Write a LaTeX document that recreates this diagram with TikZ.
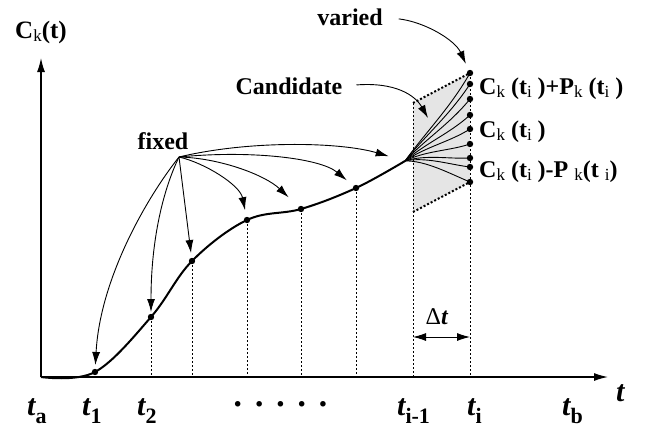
\documentclass[tikz,border=0pt]{standalone}
\usepackage{fontspec}
\setmainfont{Liberation Serif}
\usetikzlibrary{arrows.meta,calc}
\tikzset{
  >={Latex[length=13pt,width=8pt]},
  axis/.style={-{Latex[length=14pt,width=8pt]}, line width=1.3pt},
  arrow/.style={-{Latex[length=13pt,width=8pt]}, line width=0.9pt},
  curve/.style={line width=2pt},
  fanline/.style={line width=0.9pt},
  guide/.style={line width=0.9pt, dash pattern=on 2pt off 2pt},
  rim/.style={line width=2pt, dash pattern=on 2pt off 2pt},
  word/.style={font=\fontsize{24}{26}\selectfont\bfseries, inner sep=0pt},
  value/.style={font=\fontsize{24}{26}\selectfont\bfseries, inner sep=0pt, anchor=base west},
  tick label/.style={font=\fontsize{30}{32}\selectfont, inner sep=0pt, anchor=base west}
}
\newcommand{\tsub}[1]{{\bfseries\itshape t}\raisebox{-8pt}{\fontsize{22}{22}\selectfont\bfseries #1}}
\newcommand{\lo}[1]{\raisebox{-3pt}{\fontsize{17}{17}\selectfont\mdseries #1}}
\begin{document}
\begin{tikzpicture}[x=1pt,y=-1pt]
  \useasboundingbox (0,0) rectangle (663,428);

  % points
  \coordinate (o) at (41,377);
  \coordinate (ytip) at (41,58);
  \coordinate (xtip) at (608,377);
  \coordinate (d1) at (95,372);
  \coordinate (d2) at (151,317);
  \coordinate (d3) at (192,261);
  \coordinate (d4) at (247,220);
  \coordinate (d5) at (301,209);
  \coordinate (d6) at (356,188);
  \coordinate (fan) at (405,161);
  \coordinate (fx) at (179,157);
  \coordinate (q1) at (413,103);
  \coordinate (q2) at (413,212);
  \coordinate (ctip) at (428,118);
  \foreach \y [count=\i] in {73,84,99,115,129,144,158,167,182}
    \coordinate (r\i) at (470,\y);

  % candidate region
  \fill[black!10] (q1) -- (r1) -- (r9) -- (q2) -- cycle;
  \draw[rim] (q1) -- (r1);
  \draw[rim] (q2) -- (r9);
  \foreach \p in {d2,d3,d4,d5,d6}
    \draw[guide] (\p) -- (\p |- o);
  \draw[guide] (q1) -- (q1 |- o);
  \draw[guide] (r1) -- (r1 |- o);

  % axes
  \draw[axis] (o) -- (ytip);
  \draw[axis] (o) -- (xtip);

  % curve and candidates
  \draw[curve] plot[smooth, tension=0.6] coordinates {(o) (d1) (d2) (d3) (d4) (d5) (d6) (fan)};
  \foreach \y [count=\i] in {73,84,99,115,129,144,158,167,182}
    \draw[fanline] (fan) .. controls +(20,{0.25*(\y-161)-6}) and +(-20,{0.4*(161-\y)}) .. (r\i);
  \foreach \p in {d1,d2,d3,d4,d5,d6}
    \fill (\p) circle (3.2);
  \foreach \i in {1,...,9}
    \fill (r\i) circle (3.2);

  % labels
  \node[word, font=\fontsize{25}{27}\selectfont\bfseries] (ck) at (41,32) {C\lo{k}(t)};
  \node[word] (fixed) at (163,141) {fixed};
  \node[word] (varied) at (350,17) {varied};
  \node[word] (cand) at (289,86) {Candidate};
  \node[value] (plus) at (479,94) {C\lo{k} (t\lo{i} )+P\lo{k} (t\lo{i} )};
  \node[value] (mid) at (479,137) {C\lo{k} (t\lo{i} )};
  \node[value] (minus) at (479,177) {C\lo{k} (t\lo{i} )-P \lo{k}(t \lo{i})};

  % fixed points
  \draw[arrow, shorten >=7pt] (fx) .. controls (145,200) and (100,280) .. (d1);
  \draw[arrow, shorten >=5pt] (fx) .. controls (163,190) and (151,240) .. (d2);
  \draw[arrow, shorten >=8pt] (fx) -- (d3);
  \draw[arrow, shorten >=10pt] (fx) .. controls (205,163) and (240,185) .. (d4);
  \draw[arrow, shorten >=17pt] (fx) .. controls (220,158) and (265,175) .. (d5);
  \draw[arrow, shorten >=12pt] (fx) .. controls (250,150) and (320,158) .. (d6);
  \draw[arrow, shorten >=17pt] (fx) .. controls (250,140) and (340,142) .. (fan);

  \draw[arrow, shorten <=16pt, shorten >=10pt] (varied.east) .. controls (425,22) and (455,40) .. (r1);
  \draw[arrow, shorten <=14pt] (cand.east) .. controls (395,82) and (415,95) .. (ctip);

  % step
  \coordinate (s1) at (413,337);
  \coordinate (s2) at (470,337);
  \draw[<->, line width=0.9pt] (s1) -- (s2);
  \node[inner sep=0pt, font=\fontsize{24}{26}\selectfont] (dt) at (437,317) {Δ\textbf{\textit{t}}};

  % time axis labels
  \node[tick label] (ta) at (27,415) {\tsub{a}};
  \node[tick label] (t1) at (82,415) {\tsub{1}};
  \node[tick label] (t2) at (137,415) {\tsub{2}};
  \node[tick label, font=\fontsize{34}{34}\selectfont\bfseries] (gap) at (232,415) {·\hspace{10pt}·\hspace{10pt}·\hspace{10pt}·\hspace{10pt}·};
  \node[tick label] (tim) at (397,415) {\tsub{i-1}};
  \node[tick label] (ti) at (467,415) {\tsub{i}};
  \node[tick label] (tb) at (562,415) {\tsub{b}};
  \node[tick label] (tt) at (616,401) {\textbf{\textit{t}}};
\end{tikzpicture}
\end{document}
